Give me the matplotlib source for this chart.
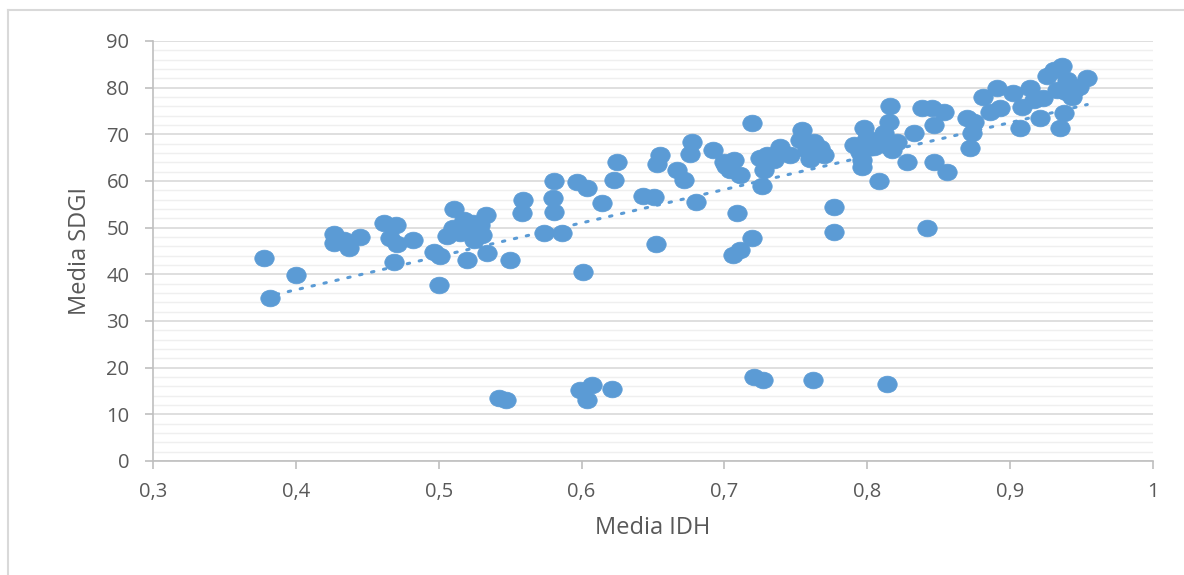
import numpy as np
import matplotlib.pyplot as plt
from matplotlib.path import Path
from matplotlib.ticker import MultipleLocator, FuncFormatter

# Valores (Media IDH, Media SDGI)
idh = [0.378, 0.382, 0.400, 0.427, 0.427, 0.434, 0.437, 0.445, 0.462, 0.470,
       0.466, 0.471, 0.469, 0.482, 0.497, 0.501, 0.500,
       0.511, 0.506, 0.515, 0.518, 0.522, 0.525, 0.529, 0.533, 0.520, 0.534,
       0.510, 0.524, 0.530,
       0.550, 0.559, 0.558, 0.574, 0.581, 0.580, 0.581, 0.586, 0.597, 0.604,
       0.601, 0.614, 0.623, 0.625, 0.643, 0.651, 0.652, 0.653, 0.655, 0.667,
       0.672, 0.676, 0.677, 0.680, 0.692, 0.700, 0.701, 0.704, 0.707, 0.711,
       0.709, 0.706, 0.711, 0.719, 0.719, 0.725, 0.730, 0.735, 0.728, 0.726,
       0.739, 0.746, 0.754, 0.753, 0.758, 0.763, 0.762, 0.767, 0.770, 0.760,
       0.777, 0.777,
       0.791, 0.795, 0.796, 0.796, 0.798, 0.800, 0.808, 0.805, 0.809, 0.812,
       0.815, 0.816, 0.817, 0.821, 0.828, 0.833, 0.838, 0.845, 0.847, 0.847,
       0.842, 0.854, 0.856, 0.870, 0.872, 0.873, 0.875, 0.881, 0.886, 0.891,
       0.893, 0.902, 0.907, 0.908, 0.914, 0.917, 0.921, 0.923, 0.926, 0.931,
       0.936, 0.933, 0.935, 0.938, 0.940, 0.943, 0.948, 0.954, 0.939, 0.945,
       0.542, 0.547, 0.599, 0.607, 0.604, 0.621, 0.721, 0.727, 0.762, 0.814]
sdgi = [43.5, 34.9, 39.9, 48.6, 46.7, 47.4, 45.6, 48.0, 51.0, 50.6,
        47.8, 46.5, 42.6, 47.4, 44.8, 43.9, 37.7,
        54.0, 48.2, 48.9, 51.6, 49.5, 47.4, 50.6, 52.7, 43.1, 44.6,
        50.0, 51.0, 48.5,
        43.1, 55.9, 53.1, 48.9, 60.0, 56.4, 53.4, 48.9, 59.8, 58.5,
        40.5, 55.3, 60.2, 64.1, 56.8, 56.6, 46.5, 63.6, 65.6, 62.4,
        60.2, 65.8, 68.4, 55.5, 66.6, 64.1, 63.2, 62.4, 64.5, 61.3,
        53.1, 44.1, 45.2, 47.8, 72.4, 64.9, 65.6, 64.5, 62.4, 58.9,
        67.3, 65.6, 70.9, 68.8, 66.6, 68.4, 65.6, 67.1, 65.6, 64.8,
        54.4, 49.1,
        67.7, 66.2, 64.5, 63.0, 71.4, 69.2, 60.0, 67.3, 68.8, 70.3,
        72.6, 76.1, 66.6, 68.4, 64.1, 70.3, 75.6, 75.6, 72.0, 64.1,
        49.9, 74.8, 61.9, 73.5, 67.1, 70.3, 72.6, 78.0, 74.8, 79.9,
        75.6, 78.9, 71.4, 75.9, 79.9, 77.4, 73.5, 77.8, 82.5, 83.8,
        84.6, 79.5, 71.4, 74.6, 81.6, 78.0, 80.1, 82.1, 79.0, 79.5,
        13.5, 13.1, 15.2, 16.3, 13.1, 15.4, 18.0, 17.4, 17.4, 16.5]

azul = '#5B9BD5'
gris_texto = '#595959'

plt.rcParams['font.family'] = ['Open Sans', 'DejaVu Sans']

fig = plt.figure(figsize=(11.84, 5.75), dpi=100)
ax = fig.add_axes([153/1184, 1 - 461/575, 1000/1184, 420/575])

# Marcador eliptico (mas ancho que alto)
circ = Path.unit_circle()
elipse = Path(circ.vertices * np.array([1.0, 0.86]), circ.codes)

ax.scatter(idh, sdgi, s=14**2, marker=elipse, color=azul, edgecolors=azul,
           linewidths=0.5, zorder=3)

# Linea de tendencia lineal
m, b = np.polyfit(idh, sdgi, 1)
xt = np.array([min(idh), max(idh)])
ax.plot(xt, m*xt + b, color=azul, lw=2.2, linestyle=(0, (0.8, 3.2)),
        dash_capstyle='round', zorder=4)

ax.set_xlim(0.3, 1.0)
ax.set_ylim(0, 90)
ax.xaxis.set_major_locator(MultipleLocator(0.1))
ax.yaxis.set_major_locator(MultipleLocator(10))
ax.yaxis.set_minor_locator(MultipleLocator(2))

def coma(v, pos):
    if abs(v - round(v)) < 1e-9:
        return '%d' % round(v)
    return ('%.1f' % v).replace('.', ',')

ax.xaxis.set_major_formatter(FuncFormatter(coma))

ax.grid(axis='y', which='major', color='#D9D9D9', lw=1.2)
ax.grid(axis='y', which='minor', color='#EFEFEF', lw=1.0)
ax.set_axisbelow(True)

for lado in ['top', 'right']:
    ax.spines[lado].set_visible(False)
for lado in ['left', 'bottom']:
    ax.spines[lado].set_color('#BFBFBF')
    ax.spines[lado].set_linewidth(1.2)

ax.tick_params(axis='both', which='major', length=6, width=1.2, color='#BFBFBF',
               labelcolor=gris_texto, labelsize=14.5)
ax.tick_params(axis='x', pad=9)
ax.tick_params(axis='y', pad=11)
ax.tick_params(axis='y', which='minor', length=0)

ax.set_xlabel('Media IDH', fontsize=17, color=gris_texto, labelpad=10)
ax.set_ylabel('Media SDGI', fontsize=17, color=gris_texto, labelpad=10)

# Borde del area del grafico
fig.add_artist(plt.Line2D([8/1184, 8/1184], [0, 1 - 10/575], color='#D9D9D9', lw=1.5))
fig.add_artist(plt.Line2D([8/1184, 1], [1 - 10/575, 1 - 10/575], color='#D9D9D9', lw=1.5))

fig.savefig('out.png', dpi=100)
